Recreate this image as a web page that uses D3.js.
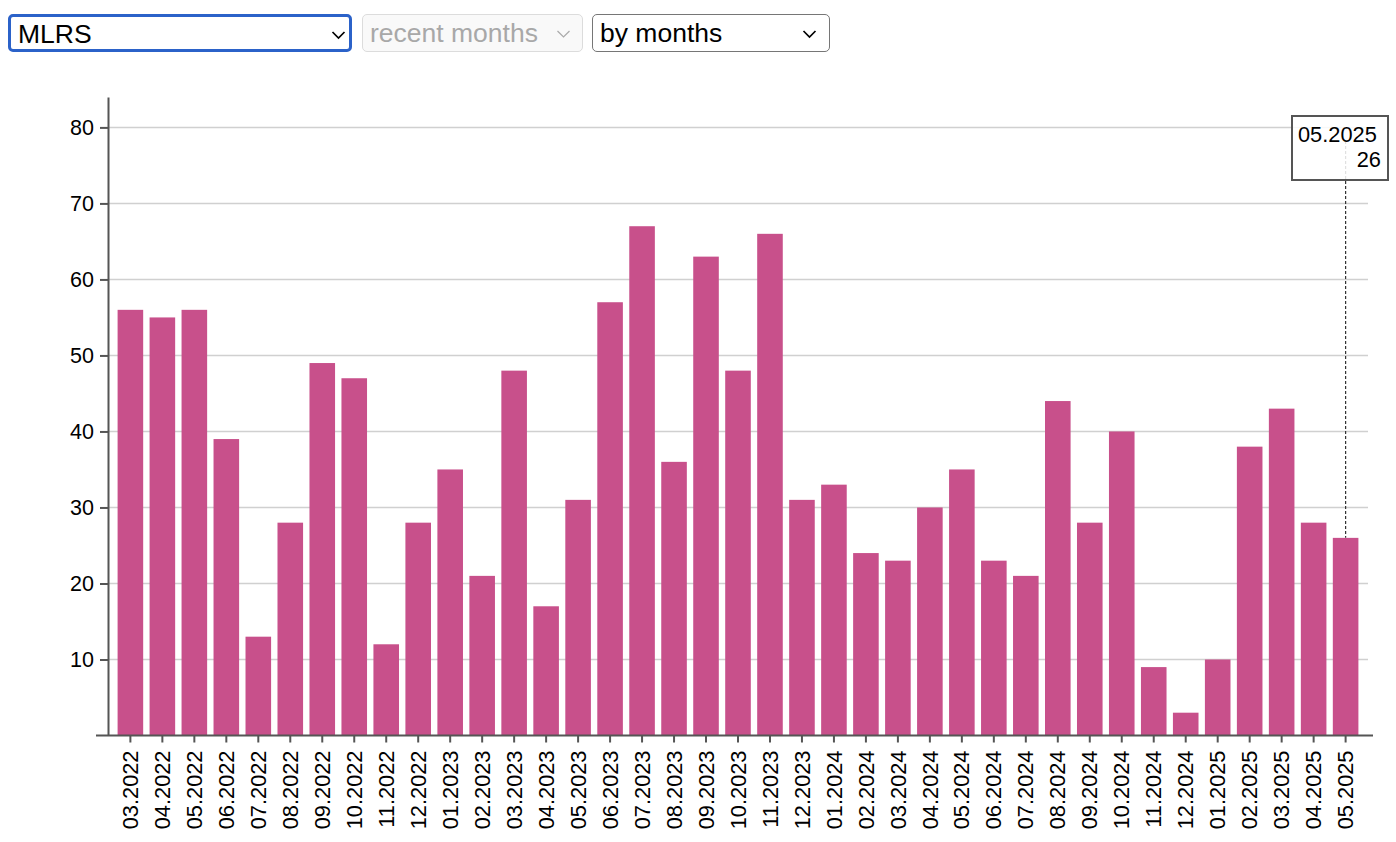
<!DOCTYPE html>
<html>
<head>
<meta charset="utf-8">
<script src="https://cdn.jsdelivr.net/npm/d3@7"></script>
<style>
  html, body { margin: 0; padding: 0; background: #fff; width: 1396px; height: 842px; overflow: hidden; }
  body { font-family: "Liberation Sans", Arial, Helvetica, sans-serif; position: relative; }
  .sel { position: absolute; top: 14px; height: 38px; box-sizing: border-box; border-radius: 5px;
         font-size: 26.5px; line-height: 37px; padding-left: 8px; background: #fff; color: #000; }
  .sel svg { position: absolute; top: 0; }
  #chart { position: absolute; left: 0; top: 0; }
</style>
</head>
<body>
<div id="controls"></div>
<svg id="chart" width="1396" height="842"></svg>
<script>
const months = ["03.2022","04.2022","05.2022","06.2022","07.2022","08.2022","09.2022","10.2022","11.2022","12.2022",
  "01.2023","02.2023","03.2023","04.2023","05.2023","06.2023","07.2023","08.2023","09.2023","10.2023","11.2023","12.2023",
  "01.2024","02.2024","03.2024","04.2024","05.2024","06.2024","07.2024","08.2024","09.2024","10.2024","11.2024","12.2024",
  "01.2025","02.2025","03.2025","04.2025","05.2025"];
const counts = [56,55,56,39,13,28,49,47,12,28,
  35,21,48,17,31,57,67,36,63,48,66,31,
  33,24,23,30,35,23,21,44,28,40,9,3,
  10,38,43,28,26];
const yTicks = [10,20,30,40,50,60,70,80];
const selectLabels = ["MLRS","recent months","by months"];

// --- controls (drawn as styled boxes) ---
const controls = d3.select("#controls");
const selSpecs = [
  {left: 8, width: 344, border: "3px solid #2b62c9", color: "#000", bg: "#fff", chev: "#000", cx: 320, ct: 3},
  {left: 362, width: 221, border: "1.5px solid #dcdcdc", color: "#a8a8a8", bg: "#f9f9f9", chev: "#aaa", cx: 193, ct: 4},
  {left: 592, width: 238, border: "1.5px solid #767676", color: "#000", bg: "#fff", chev: "#000", cx: 209, ct: 4}
];
selSpecs.forEach((s, i) => {
  const d = controls.append("div").attr("class", "sel")
    .style("left", s.left + "px").style("width", s.width + "px")
    .style("border", s.border).style("color", s.color).style("background", s.bg)
    .style("line-height", i === 0 ? "35px" : "37px")
    .style("padding-left", i === 0 ? "7px" : "7px");
  d.append("span").text(selectLabels[i]);
  const sv = d.append("svg").attr("width", 20).attr("height", 30)
    .style("left", s.cx + "px").style("top", s.ct + "px");
  sv.append("path").attr("d", "M1.5,12 L7.5,18 L13.5,12").attr("fill", "none")
    .attr("stroke", s.chev).attr("stroke-width", i === 1 ? 1.2 : 1.7);
});

// --- chart ---
const svg = d3.select("#chart");
const x = d3.scaleBand().domain(months).range([108, 1368]).paddingInner(0.2).paddingOuter(0.3);
const y = d3.scaleLinear().domain([0, 84]).range([735.5, 97]);
const fontFam = '"Liberation Sans", Arial, Helvetica, sans-serif';

// gridlines
svg.append("g").selectAll("line").data(yTicks).join("line")
  .attr("x1", x.range()[0]).attr("x2", x.range()[1])
  .attr("y1", d => y(d)).attr("y2", d => y(d))
  .attr("stroke", "#d0d0d0").attr("stroke-width", 1.5);

// bars
svg.append("g").selectAll("rect").data(months).join("rect")
  .attr("x", d => x(d)).attr("width", x.bandwidth())
  .attr("y", (d, i) => y(counts[i])).attr("height", (d, i) => y(0) - y(counts[i]))
  .attr("fill", "#c8508b");

// y axis
const yAxis = svg.append("g").attr("transform", `translate(${x.range()[0]},0)`)
  .call(d3.axisLeft(y).tickValues(yTicks).tickSize(8).tickSizeOuter(0).tickPadding(6));
yAxis.selectAll("path,line").attr("stroke", "#555").attr("stroke-width", 2);
yAxis.selectAll("text").attr("font-size", 21.5).attr("font-family", fontFam).attr("fill", "#000");

// x axis
const xAxis = svg.append("g").attr("transform", `translate(0,${y(0)})`)
  .call(d3.axisBottom(x).tickSize(7).tickSizeOuter(0));
xAxis.select(".domain").remove();
xAxis.append("line").attr("x1", x.range()[0] - 12).attr("x2", x.range()[1] + 5)
  .attr("y1", 0).attr("y2", 0).attr("stroke", "#555").attr("stroke-width", 2);
xAxis.selectAll(".tick line").attr("stroke", "#555").attr("stroke-width", 2);
xAxis.selectAll(".tick text")
  .attr("font-size", 21.8).attr("font-family", fontFam).attr("fill", "#000")
  .attr("transform", "rotate(-90)")
  .attr("text-anchor", "end").attr("x", -15).attr("y", 0).attr("dy", "0.35em");

// tooltip for last month
const lastIdx = months.length - 1;
const cx = x(months[lastIdx]) + x.bandwidth() / 2;
const tip = svg.append("g");
tip.append("line").attr("x1", cx).attr("x2", cx).attr("y1", 141).attr("y2", y(counts[lastIdx]))
  .attr("stroke", "#333").attr("stroke-width", 1.2).attr("stroke-dasharray", "3,2");
tip.append("rect").attr("x", 1292).attr("y", 116).attr("width", 96).attr("height", 64)
  .attr("fill", "#fff").attr("fill-opacity", 0.85).attr("stroke", "#555").attr("stroke-width", 2);
tip.append("text").attr("x", 1298).attr("y", 141.5).attr("text-anchor", "start")
  .attr("font-size", 21.8).attr("font-family", fontFam).text(months[lastIdx]);
tip.append("text").attr("x", 1381).attr("y", 166.5).attr("text-anchor", "end")
  .attr("font-size", 21.8).attr("font-family", fontFam).text(counts[lastIdx]);
</script>
</body>
</html>
